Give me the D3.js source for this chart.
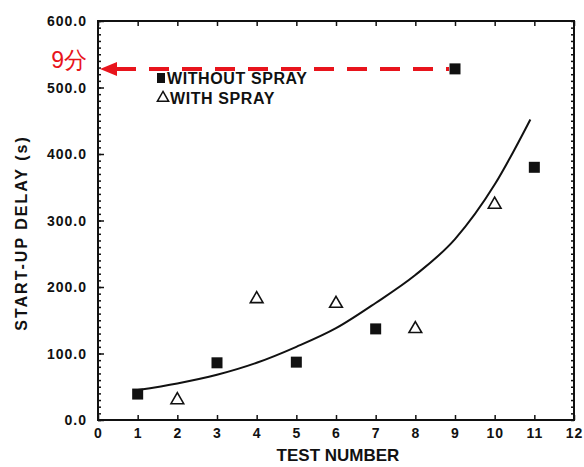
<!DOCTYPE html>
<html><head><meta charset="utf-8">
<script src="https://cdn.jsdelivr.net/npm/d3@7"></script>
<style>
body{margin:0;background:#fff;}
text{font-family:"Liberation Sans",Arial,sans-serif;fill:#111;}
</style></head>
<body><svg id="c" width="584" height="467"></svg>
<script>
// Data
const withoutX = [1, 3, 5, 7, 9, 11];
const withoutY = [39, 86, 87, 137, 528, 380];
const withX = [2, 4, 6, 8, 10];
const withY = [30, 182, 175, 137, 324];
const fitX = [1, 2, 3, 4, 5, 6, 7, 8, 9, 10, 10.9];
const fitY = [45, 55, 68, 86, 110, 138, 176, 218, 272, 354, 452];
const xTicks = [0,1,2,3,4,5,6,7,8,9,10,11,12];
const yTicks = [0,100,200,300,400,500,600];
const annotValue = 528;
const annotLabel = "9分";

const svg = d3.select("#c");
const L=98, R=574, T=21, B=420;
const x = d3.scaleLinear().domain([0,12]).range([L,R]);
const y = d3.scaleLinear().domain([0,600]).range([B,T]);

// frame
svg.append("rect").attr("x",L).attr("y",T).attr("width",R-L).attr("height",B-T)
  .attr("fill","none").attr("stroke","#111").attr("stroke-width",2);

// axes with inward ticks
const xb = d3.axisBottom(x).tickValues(xTicks).tickSize(-5).tickPadding(8).tickFormat(d3.format("d"));
const gx = svg.append("g").attr("transform",`translate(0,${B})`).call(xb);
const xt = d3.axisTop(x).tickValues(xTicks).tickSize(-5).tickFormat("");
const gxt = svg.append("g").attr("transform",`translate(0,${T})`).call(xt);
const yl = d3.axisLeft(y).tickValues(yTicks).tickSize(-6).tickPadding(11).tickFormat(d3.format(".1f"));
const gy = svg.append("g").attr("transform",`translate(${L},0)`).call(yl);
const yMinor = d3.range(0,601,10);
const gym = svg.append("g").attr("transform",`translate(${L},0)`).call(d3.axisLeft(y).tickValues(yMinor).tickSize(-3).tickFormat(""));
const gyr = svg.append("g").attr("transform",`translate(${R},0)`).call(d3.axisRight(y).tickValues(yMinor).tickSize(-3).tickFormat(""));
[gx,gxt,gy,gym,gyr].forEach(g=>{g.select(".domain").remove(); g.selectAll("line").attr("stroke","#111").attr("stroke-width",1.5);});
gx.selectAll("text").attr("font-size",14).attr("font-weight","bold").attr("fill","#111").style("letter-spacing","1px");
gy.selectAll("text").attr("font-size",14).attr("font-weight","bold").attr("fill","#111").attr("dy","0.35em").style("letter-spacing","1px");

// axis titles
svg.append("text").attr("x",338).attr("y",461).attr("text-anchor","middle")
  .attr("font-size",17).attr("font-weight","bold").text("TEST NUMBER");
svg.append("text").attr("transform",`translate(27,233) rotate(-90)`).attr("text-anchor","middle")
  .attr("font-size",16).attr("font-weight","bold").style("letter-spacing","2px").text("START-UP DELAY (s)");

// fit curve
const line = d3.line().x((d,i)=>x(fitX[i])).y((d,i)=>y(fitY[i])).curve(d3.curveMonotoneX);
svg.append("path").datum(fitY).attr("d",line).attr("fill","none").attr("stroke","#111").attr("stroke-width",2);

// red dashed annotation arrow
svg.append("line").attr("x1",x(0)+18).attr("x2",x(9)-6).attr("y1",y(annotValue)).attr("y2",y(annotValue))
  .attr("stroke","#e8141c").attr("stroke-width",4).attr("stroke-dasharray","20,13");
svg.append("path").attr("d",`M${x(0)+2},${y(annotValue)} l17,-7 l0,14 z`).attr("fill","#e8141c");
svg.append("text").attr("x",87).attr("y",68).attr("text-anchor","end")
  .attr("font-size",23).attr("font-family","Noto Sans CJK SC").attr("font-weight","500").style("fill","#e8141c").text(annotLabel);

// squares
const s = 11;
svg.selectAll("rect.sq").data(withoutX).enter().append("rect").attr("class","sq")
  .attr("x",(d)=>x(d)-s/2).attr("y",(d,i)=>y(withoutY[i])-s/2).attr("width",s).attr("height",s).attr("fill","#111");
// triangles
const tri = d3.symbol().type(d3.symbolTriangle).size(70);
svg.selectAll("path.tr").data(withX).enter().append("path").attr("class","tr")
  .attr("d",tri).attr("transform",(d,i)=>`translate(${x(d)},${y(withY[i])})`)
  .attr("fill","none").attr("stroke","#111").attr("stroke-width",1.6);

// legend
svg.append("rect").attr("x",157).attr("y",73).attr("width",8).attr("height",10).attr("fill","#111");
svg.append("text").attr("x",167).attr("y",84).attr("font-size",16).attr("font-weight","bold").style("letter-spacing","0.6px").text("WITHOUT SPRAY");
svg.append("path").attr("d",d3.symbol().type(d3.symbolTriangle).size(55)).attr("transform","translate(163,98)").attr("fill","none").attr("stroke","#111").attr("stroke-width",1.5);
svg.append("text").attr("x",170).attr("y",104).attr("font-size",16).attr("font-weight","bold").style("letter-spacing","0.6px").text("WITH SPRAY");
</script></body></html>
